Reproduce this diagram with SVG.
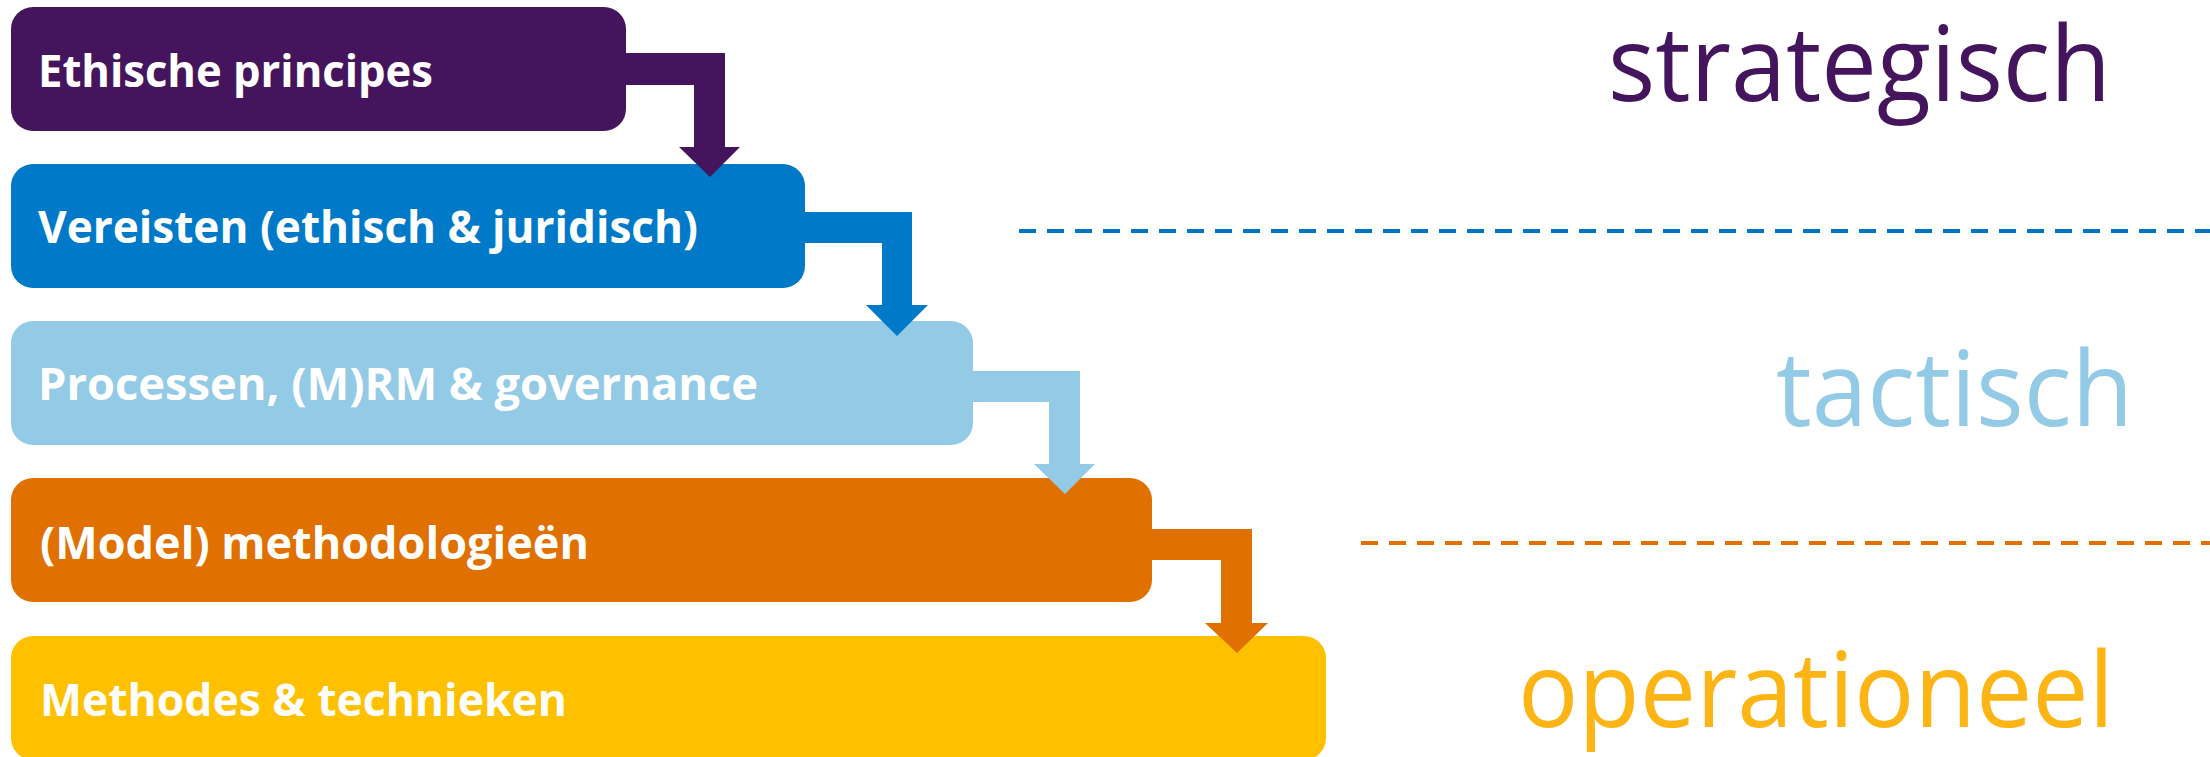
<svg xmlns="http://www.w3.org/2000/svg" width="2210" height="757" viewBox="0 0 2210 757">
  <style>
    .box { rx: 22; ry: 22; }
    .lbl { font-family: "Open Sans", "Noto Sans", sans-serif; font-weight: 700; font-size: 45px; fill: #ffffff; }
    .lvl { font-family: "Open Sans", "Noto Sans", sans-serif; font-weight: 400; font-size: 105px; }
    .dash { stroke-width: 4; stroke-dasharray: 17 11; fill: none; }
  </style>
  <rect width="2210" height="757" fill="#ffffff"/>

  <!-- stacked layers -->
  <g id="ethische-principes">
    <rect class="box" x="11" y="7" width="615" height="124" fill="#44155c"/>
    <text class="lbl" x="38" y="87" textLength="395" lengthAdjust="spacingAndGlyphs">Ethische principes</text>
  </g>
  <g id="vereisten">
    <rect class="box" x="11" y="164" width="794" height="124" fill="#007ac8"/>
    <text class="lbl" x="38" y="243" textLength="660" lengthAdjust="spacingAndGlyphs">Vereisten (ethisch &amp; juridisch)</text>
  </g>
  <g id="processen">
    <rect class="box" x="11" y="321" width="962" height="124" fill="#93cbe6"/>
    <text class="lbl" x="38" y="400" textLength="720" lengthAdjust="spacingAndGlyphs">Processen, (M)RM &amp; governance</text>
  </g>
  <g id="methodologieen">
    <rect class="box" x="11" y="478" width="1141" height="124" fill="#e07000"/>
    <text class="lbl" x="40" y="559" textLength="549" lengthAdjust="spacingAndGlyphs">(Model) methodologieën</text>
  </g>
  <g id="methodes-technieken">
    <rect class="box" x="11" y="636" width="1315" height="124" fill="#ffc000"/>
    <text class="lbl" x="40" y="716" textLength="527" lengthAdjust="spacingAndGlyphs">Methodes &amp; technieken</text>
  </g>

  <!-- elbow arrows between layers -->
  <g id="connectors">
    <path d="M620 53 H725 V147 H740 L710 177 L679 147 H694 V85 H620 Z" fill="#44155c"/>
    <path d="M800 212 H912 V305 H928 L897 336 L866 305 H882 V243 H800 Z" fill="#007ac8"/>
    <path d="M968 371 H1080 V464 H1095 L1065 494 L1034 464 H1049 V402 H968 Z" fill="#93cbe6"/>
    <path d="M1147 529 H1252 V623 H1268 L1237 653 L1205 623 H1221 V560 H1147 Z" fill="#e07000"/>
  </g>

  <!-- level labels and separators -->
  <g id="levels">
    <text class="lvl" x="1608" y="101" fill="#44155c" textLength="503" lengthAdjust="spacingAndGlyphs">strategisch</text>
    <line class="dash" x1="1019" y1="231" x2="2210" y2="231" stroke="#0074c4"/>
    <text class="lvl" x="1776" y="426" fill="#93cbe6" textLength="357" lengthAdjust="spacingAndGlyphs">tactisch</text>
    <line class="dash" x1="1361" y1="543" x2="2210" y2="543" stroke="#e07000"/>
    <text class="lvl" x="1518" y="727" fill="#fdb515" textLength="596" lengthAdjust="spacingAndGlyphs">operationeel</text>
  </g>
</svg>
